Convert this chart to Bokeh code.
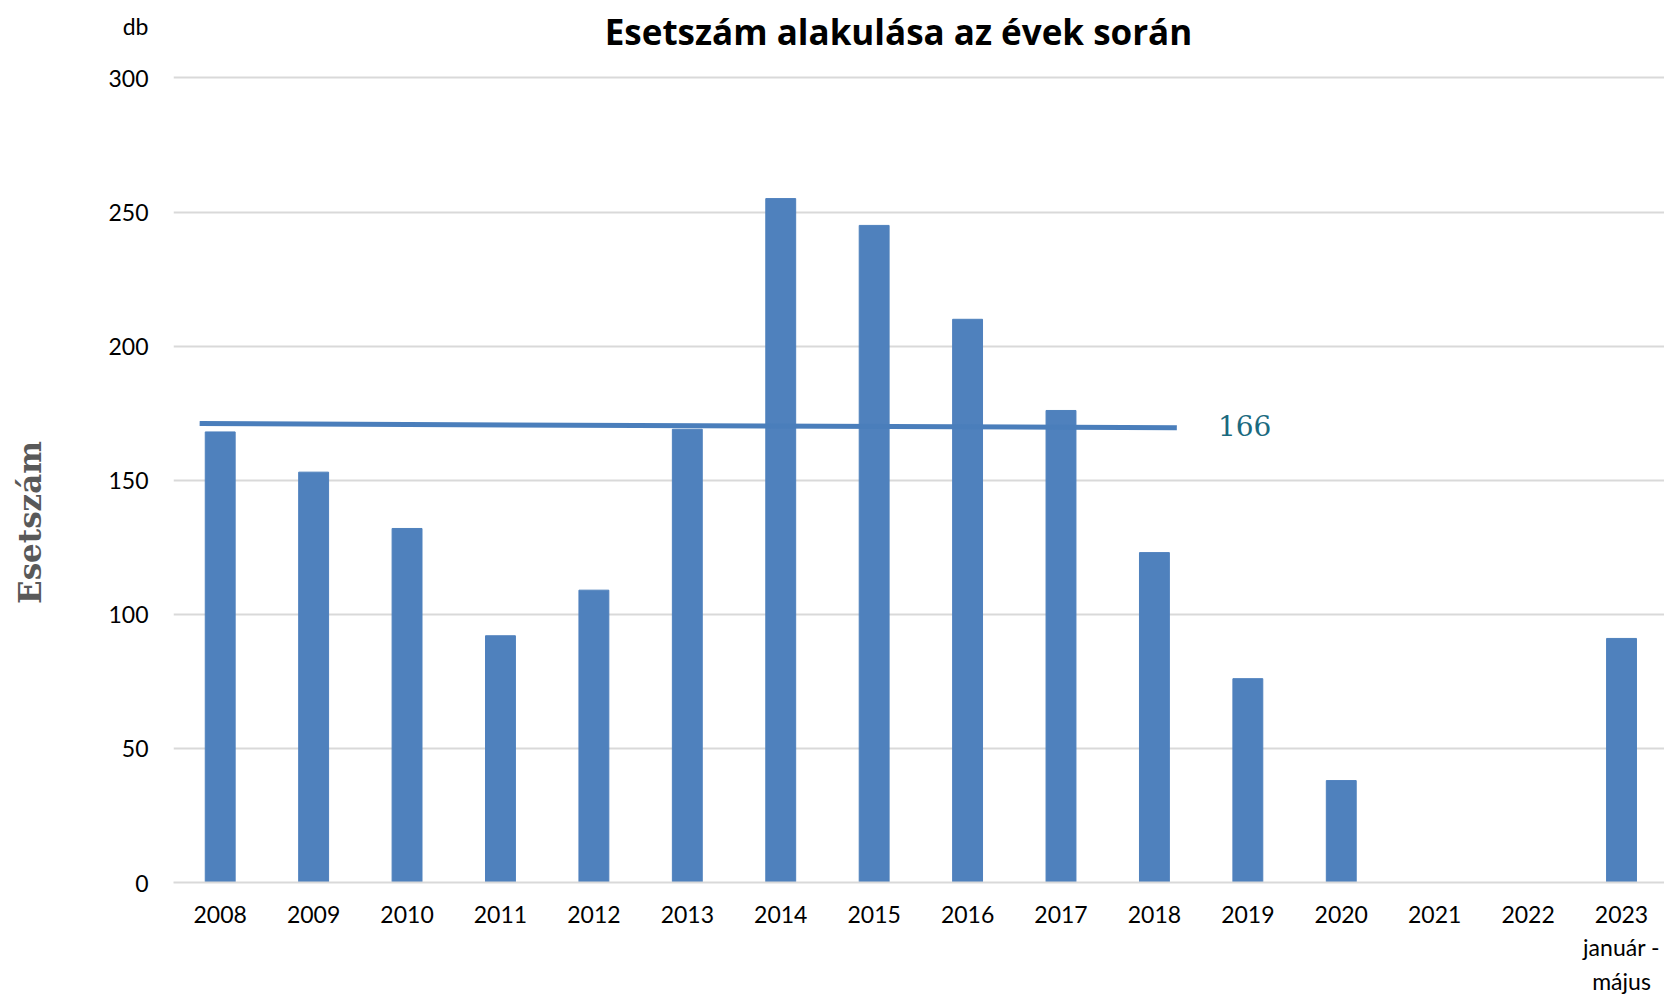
from bokeh.plotting import figure
from bokeh.models import ColumnDataSource, FixedTicker, Label, Range1d, LinearAxis
from bokeh.embed import file_html
from bokeh.resources import INLINE

# ---- data ----
years = ["2008", "2009", "2010", "2011", "2012", "2013", "2014", "2015",
         "2016", "2017", "2018", "2019", "2020", "2021", "2022", "2023\njanuár -\nmájus"]
cases = [168, 153, 132, 92, 109, 169, 255, 245, 210, 176, 123, 76, 38, 0, 0, 91]
trend_values = [171.1, 169.6]          # trend line start / end value
trend_span = [0, 10]                   # categories the trend covers (2008..2018)
average_label = "166"
y_ticks = [0, 50, 100, 150, 200, 250, 300]
unit_label = "db"
y_title = "Esetszám"
title = "Esetszám alakulása az évek során"

BAR = "#4F81BD"
idx = list(range(len(years)))

W, H = 1664, 997
Y_TOP = 328.86        # frame reaches the top of the canvas; 300 sits at the first gridline
UNIT_POS = 319.2      # height of the "db" unit caption on the value axis
TITLE_PAD = 15        # non-breaking spaces that push the rotated axis title down

p = figure(width=W, height=H, output_backend="svg", toolbar_location=None,
           x_range=Range1d(-0.5, 15.46), y_range=Range1d(0, Y_TOP),
           min_border_left=173, min_border_right=0, min_border_top=0,
           min_border_bottom=114)
p.outline_line_color = None
p.background_fill_color = "white"
p.border_fill_color = "white"

src = ColumnDataSource(dict(x=idx, top=cases))
p.vbar(x="x", top="top", width=0.32, bottom=0, color=BAR, source=src)

# trend line (extends a little beyond the first/last covered bars)
tx = [trend_span[0] - 0.22, trend_span[1] + 0.24]
p.line(tx, trend_values, line_color="#4A7EBB", line_width=5)

p.add_layout(Label(x=trend_span[1] + 0.68, y=sum(trend_values) / 2, text=average_label,
                   text_font="DejaVu Serif", text_font_size="28px",
                   text_color="#1B6A80", text_baseline="middle", text_align="left"))

# value axis
p.yaxis.ticker = FixedTicker(ticks=y_ticks + [UNIT_POS])
p.yaxis.major_label_overrides = {UNIT_POS: unit_label}
p.yaxis.axis_line_color = None
p.yaxis.major_tick_line_color = None
p.yaxis.minor_tick_line_color = None
p.yaxis.major_label_standoff = 19
p.yaxis.major_label_text_font = "Lato"
p.yaxis.major_label_text_font_size = "23px"
p.yaxis.major_label_text_color = "#000000"

# outer left axis carrying only the rotated axis title
ax2 = LinearAxis(ticker=FixedTicker(ticks=[]),
                 axis_label=y_title + "\u00a0" * TITLE_PAD, axis_label_standoff=58,
                 axis_label_text_font="DejaVu Serif", axis_label_text_font_style="bold",
                 axis_label_text_font_size="31px", axis_label_text_color="#595959",
                 axis_line_color=None, major_tick_line_color=None,
                 minor_tick_line_color=None, major_label_standoff=0)
p.add_layout(ax2, "left")

p.xaxis.ticker = FixedTicker(ticks=idx)
p.xaxis.major_label_overrides = {i: y for i, y in enumerate(years)}
p.xaxis.axis_line_color = "#D9D9D9"
p.xaxis.axis_line_width = 2
p.xaxis.major_tick_line_color = None
p.xaxis.minor_tick_line_color = None
p.xaxis.major_label_standoff = 11
p.xaxis.major_label_text_font = "Lato"
p.xaxis.major_label_text_font_size = "23px"
p.xaxis.major_label_text_color = "#000000"

p.xgrid.grid_line_color = None
p.ygrid.ticker = FixedTicker(ticks=y_ticks)
p.ygrid.grid_line_color = "#D9D9D9"
p.ygrid.grid_line_width = 2

# chart title (screen units are measured from the frame's bottom-left corner)
p.add_layout(Label(x=725, y=851, x_units="screen", y_units="screen",
                   text=title, text_font="Open Sans", text_font_style="bold",
                   text_font_size="35px", text_color="#000000",
                   text_align="center", text_baseline="middle"))

open("out.html", "w").write(file_html(p, INLINE))
